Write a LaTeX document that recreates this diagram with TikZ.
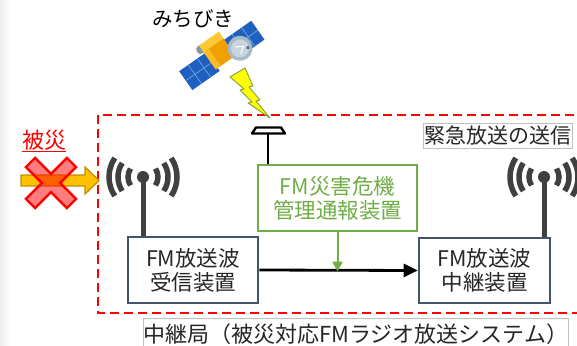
\documentclass[tikz,border=0pt]{standalone}
\usepackage{fontspec}
\setmainfont{Noto Sans CJK JP}
\usetikzlibrary{arrows.meta}

\definecolor{slate}{HTML}{44546A}
\definecolor{fmgreen}{HTML}{70AD47}
\definecolor{antgray}{HTML}{404040}
\definecolor{txtdark}{HTML}{262626}
\definecolor{gold}{HTML}{FFC000}
\definecolor{goldedge}{HTML}{BF9000}
\definecolor{labelline}{HTML}{BFBFBF}
\definecolor{panelblue}{HTML}{1F5FC0}
\definecolor{panelline}{HTML}{6A9EE0}
\definecolor{bodyorange}{HTML}{F0A000}
\definecolor{bodylight}{HTML}{FFC933}
\definecolor{dishgray}{HTML}{A8B9C8}
\definecolor{dishlight}{HTML}{C8D4DE}
\definecolor{knobgray}{HTML}{8A97A5}
\definecolor{boltyellow}{HTML}{FFFF00}
\definecolor{boltedge}{HTML}{7F9F3F}

\begin{document}
\begin{tikzpicture}[x=1pt,y=-1pt,
  devbox/.style={draw=slate, line width=2.6pt, fill=white, inner sep=0pt,
    align=center, text=txtdark, font=\fontsize{21.5}{24}\selectfont},
  warnbox/.style={draw=fmgreen, line width=2pt, fill=white, inner sep=0pt,
    align=center, text=fmgreen, font=\fontsize{21.5}{24}\selectfont},
  labelbox/.style={draw=labelline, line width=0.8pt, fill=white, inner sep=0pt,
    text=txtdark, font=\fontsize{21}{24}\selectfont},
  reddash/.style={draw=red, line width=2.8pt, dash pattern=on 9pt off 5pt},
  mastline/.style={draw=antgray, line width=5pt},
  signal/.style={draw=black, line width=2.8pt, -{Triangle[length=14pt,width=13pt]}},
  feed/.style={draw=fmgreen, line width=2pt, -{Triangle[length=10pt,width=10pt]}},
  radio/.pic={
    \fill[antgray] (0,0) circle[radius=6];
    \foreach \r in {15,25,34}{
      \draw[antgray, line width=5.5pt] (146:\r) arc[start angle=146, end angle=214, radius=\r];
      \draw[antgray, line width=5.5pt] (-34:\r) arc[start angle=-34, end angle=34, radius=\r];
    }
  }]
\useasboundingbox (0,0) rectangle (577,345);
\begin{scope}
\clip (0,0) rectangle (577,345);

% soft shadow along the left edge
\shade[left color=black!7, right color=white] (0,0) rectangle (10,345);

% relay station boundary
\draw[reddash] (98,115) rectangle (600,313);

% satellite
\begin{scope}[shift={(221,56)}, rotate=35]
  \fill[panelblue] (-43,-11.5) rectangle (-9.6,11.5);
  \draw[panelline, line width=0.8pt] (-31.9,-11.5) -- (-31.9,11.5) (-20.7,-11.5) -- (-20.7,11.5) (-43,0) -- (-9.6,0);
  \fill[panelblue] (10,-11.5) rectangle (45,11.5);
  \draw[panelline, line width=0.8pt] (21.7,-11.5) -- (21.7,11.5) (33.3,-11.5) -- (33.3,11.5) (10,0) -- (45,0);
  \fill[knobgray] (-13,-17) circle[radius=4.5];
  \fill[bodyorange] (-12,-21) rectangle (12,8);
  \fill[bodylight] (-12,-21) rectangle (12,-13);
  \fill[bodylight!70!bodyorange] (-12,-13) rectangle (-6,8);
  \fill[dishgray] (20,4.6) circle[radius=12.5];
  \fill[dishlight] (20,4.6) circle[radius=9];
  \draw[white, line width=1.1pt] (16.5,0.5) -- (24,5) -- (17.5,9.5);
  \fill[black!65] (26.8,8.5) circle[radius=1.7];
\end{scope}
\node[font=\fontsize{20.5}{24}\selectfont, text=black, inner sep=0pt] (michibiki) at (193,19) {みちびき};

% lightning bolt from the satellite down to the receiver
\filldraw[fill=boltyellow, draw=boltedge, line width=0.9pt, line join=round]
  (230,77) -- (245,68) -- (253,86) -- (249,87) -- (260,100) -- (256,101)
  -- (270,118) -- (248,103) -- (252,102) -- (240,90) -- (244,89) -- cycle;

% incoming broadcast, cut off by the disaster
\filldraw[fill=gold, draw=goldedge, line width=1.3pt, line join=miter]
  (21,175) -- (85,175) -- (85,167) -- (99,180.5) -- (85,194) -- (85,186) -- (21,186) -- cycle;
\begin{scope}[shift={(51,183)}, rotate=45]
  \filldraw[fill=red, fill opacity=0.5, draw=red, line width=2.4pt, line join=miter]
    (-29,-6.5) -- (-6.5,-6.5) -- (-6.5,-29) -- (6.5,-29) -- (6.5,-6.5) -- (29,-6.5)
    -- (29,6.5) -- (6.5,6.5) -- (6.5,29) -- (-6.5,29) -- (-6.5,6.5) -- (-29,6.5) -- cycle;
\end{scope}
\node[font=\fontsize{22}{24}\selectfont, text=red, inner sep=0pt, anchor=base] (hisai) at (44,148) {被災};
\draw[red, line width=1.3pt] ([yshift=-3.5pt]hisai.base west) -- ([yshift=-3.5pt]hisai.base east);

% equipment
\node[devbox, minimum width=130, minimum height=66] (recv) at (193,270) {FM放送波\\受信装置};
\node[devbox, minimum width=131, minimum height=65] (relay) at (484.5,270.5) {FM放送波\\中継装置};
\node[warnbox, minimum width=159, minimum height=66] (warn) at (337.5,198) {FM災害危機\\管理通報装置};

% antennas
\coordinate (ant1) at (143,177);
\coordinate (ant2) at (544,177);
\draw[mastline] (ant1) -- (ant1 |- recv.north);
\draw[mastline] (ant2) -- (ant2 |- relay.north);
\pic at (ant1) {radio};
\pic at (ant2) {radio};

% satellite receiver antenna on the warning unit
\coordinate (gps) at (268,133.5);
\draw[black, line width=2.8pt] (gps) -- (gps |- warn.north);
\filldraw[fill=white, draw=black, line width=2.4pt, line join=round]
  (252,133.5) -- (256,127.5) -- (281,127.5) -- (285,133.5) -- cycle;

% signal paths
\draw[signal] (recv.east) -- (relay.west);
\coordinate (join) at (warn.south |- recv.east);
\draw[feed] (warn.south) -- ([yshift=-1.5pt]join);

% captions
\node[labelbox, minimum width=149, minimum height=25] (emerg) at (497.5,135.5) {緊急放送の送信};
\node[labelbox, minimum width=422, minimum height=32, anchor=north west,
      font=\fontsize{22}{24}\selectfont] (station) at (143,318)
  {中継局（被災対応FMラジオ放送システム）};
\end{scope}
\end{tikzpicture}
\end{document}
